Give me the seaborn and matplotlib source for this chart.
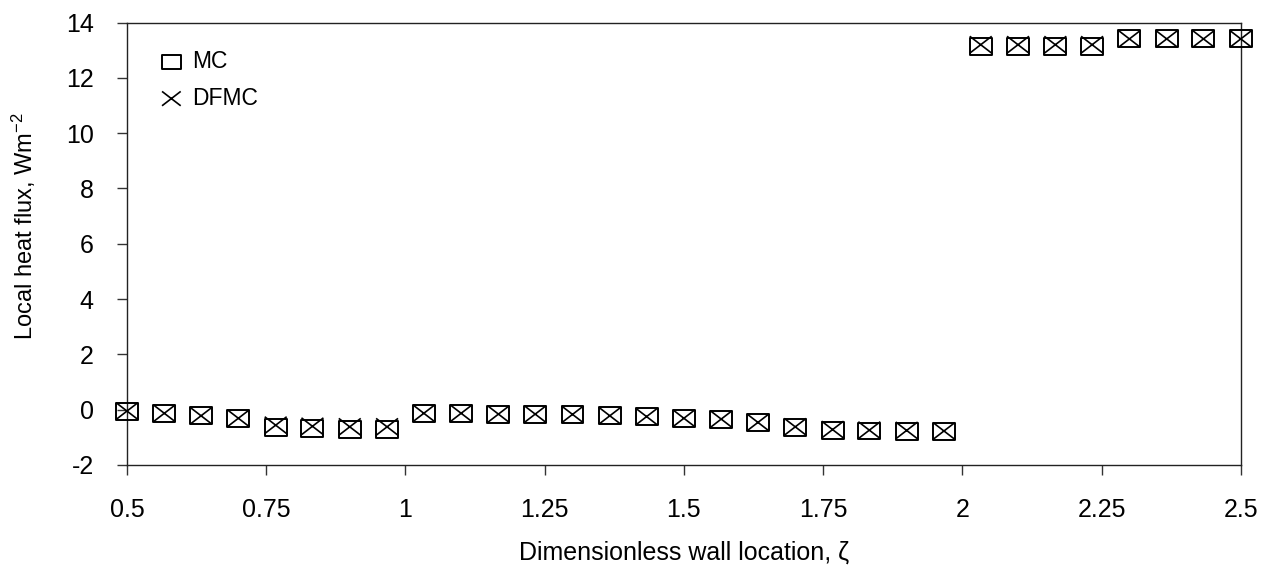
import matplotlib
matplotlib.use('Agg')
import matplotlib.pyplot as plt
from matplotlib.path import Path
import seaborn as sns

# wall location (dimensionless) and local heat flux
zeta = [0.5, 0.567, 0.633, 0.7, 0.767, 0.833, 0.9, 0.967,
        1.033, 1.1, 1.167, 1.233, 1.3, 1.367, 1.433, 1.5,
        1.567, 1.633, 1.7, 1.767, 1.833, 1.9, 1.967,
        2.033, 2.1, 2.167, 2.233, 2.3, 2.367, 2.433, 2.5]

flux_mc = [-0.07, -0.13, -0.22, -0.31, -0.63, -0.68, -0.70, -0.70,
           -0.13, -0.13, -0.16, -0.16, -0.17, -0.22, -0.25, -0.31,
           -0.36, -0.47, -0.65, -0.75, -0.77, -0.78, -0.80,
           13.13, 13.13, 13.13, 13.13, 13.41, 13.41, 13.41, 13.41]

flux_dfmc = [-0.05, -0.13, -0.22, -0.31, -0.56, -0.60, -0.62, -0.62,
             -0.13, -0.13, -0.16, -0.16, -0.17, -0.22, -0.25, -0.31,
             -0.34, -0.46, -0.62, -0.72, -0.74, -0.75, -0.77,
             13.20, 13.20, 13.20, 13.20, 13.41, 13.41, 13.41, 13.41]

xticks = [0.5, 0.75, 1, 1.25, 1.5, 1.75, 2, 2.25, 2.5]
xtick_labels = ['0.5', '0.75', '1', '1.25', '1.5', '1.75', '2', '2.25', '2.5']
yticks = [-2, 0, 2, 4, 6, 8, 10, 12, 14]

sns.set_style('ticks')
plt.rcParams['font.family'] = ['Liberation Sans', 'DejaVu Sans']
plt.rcParams['mathtext.default'] = 'regular'
plt.rcParams['axes.unicode_minus'] = False
plt.rcParams['text.color'] = 'black'
plt.rcParams['axes.labelcolor'] = 'black'

# excel-style markers: open rectangle and a cross spanning the same box
w, h = 1.0, 0.77
rect_marker = Path([(-w, -h), (w, -h), (w, h), (-w, h), (-w, -h)],
                   [Path.MOVETO, Path.LINETO, Path.LINETO, Path.LINETO, Path.CLOSEPOLY])
cross_marker = Path([(-w, -h), (w, h), (-w, h), (w, -h)],
                    [Path.MOVETO, Path.LINETO, Path.MOVETO, Path.LINETO])

fig = plt.figure(figsize=(12.7, 5.65), dpi=100)
ax = fig.add_axes([0.1, 0.177, 0.877, 0.783])

sns.scatterplot(x=zeta, y=flux_mc, marker=rect_marker, s=250, color='black',
                facecolor='none', edgecolor='black', linewidth=1.4,
                label='MC', clip_on=False, zorder=3, ax=ax)
sns.scatterplot(x=zeta, y=flux_dfmc, marker=cross_marker, s=250, color='black',
                facecolor='none', edgecolor='black', linewidth=1.2,
                label='DFMC', clip_on=False, zorder=3, ax=ax)

ax.set_xlim(0.5, 2.5)
ax.set_ylim(-2, 14)
ax.set_xticks(xticks)
ax.set_xticklabels(xtick_labels)
ax.set_yticks(yticks)
ax.tick_params(axis='both', direction='out', length=7, width=1, color='#333333',
               labelcolor='black', labelsize=18)
ax.tick_params(axis='x', pad=17)
ax.tick_params(axis='y', pad=17)

for side in ['left', 'right', 'top', 'bottom']:
    ax.spines[side].set_visible(True)
    ax.spines[side].set_color('#222222')
    ax.spines[side].set_linewidth(1.0)

ax.set_xlabel('Dimensionless wall location, ζ', fontsize=18, labelpad=13)
ax.set_ylabel('Local heat flux, Wm$^{-2}$', fontsize=17)
ax.yaxis.set_label_coords(-0.08, 0.54)

leg = ax.legend(loc='upper left', bbox_to_anchor=(0.01, 0.985), frameon=False,
                fontsize=16.5, markerscale=0.85, handletextpad=0.35,
                labelspacing=0.6, handlelength=1.1)

fig.savefig('out.png', dpi=100)
